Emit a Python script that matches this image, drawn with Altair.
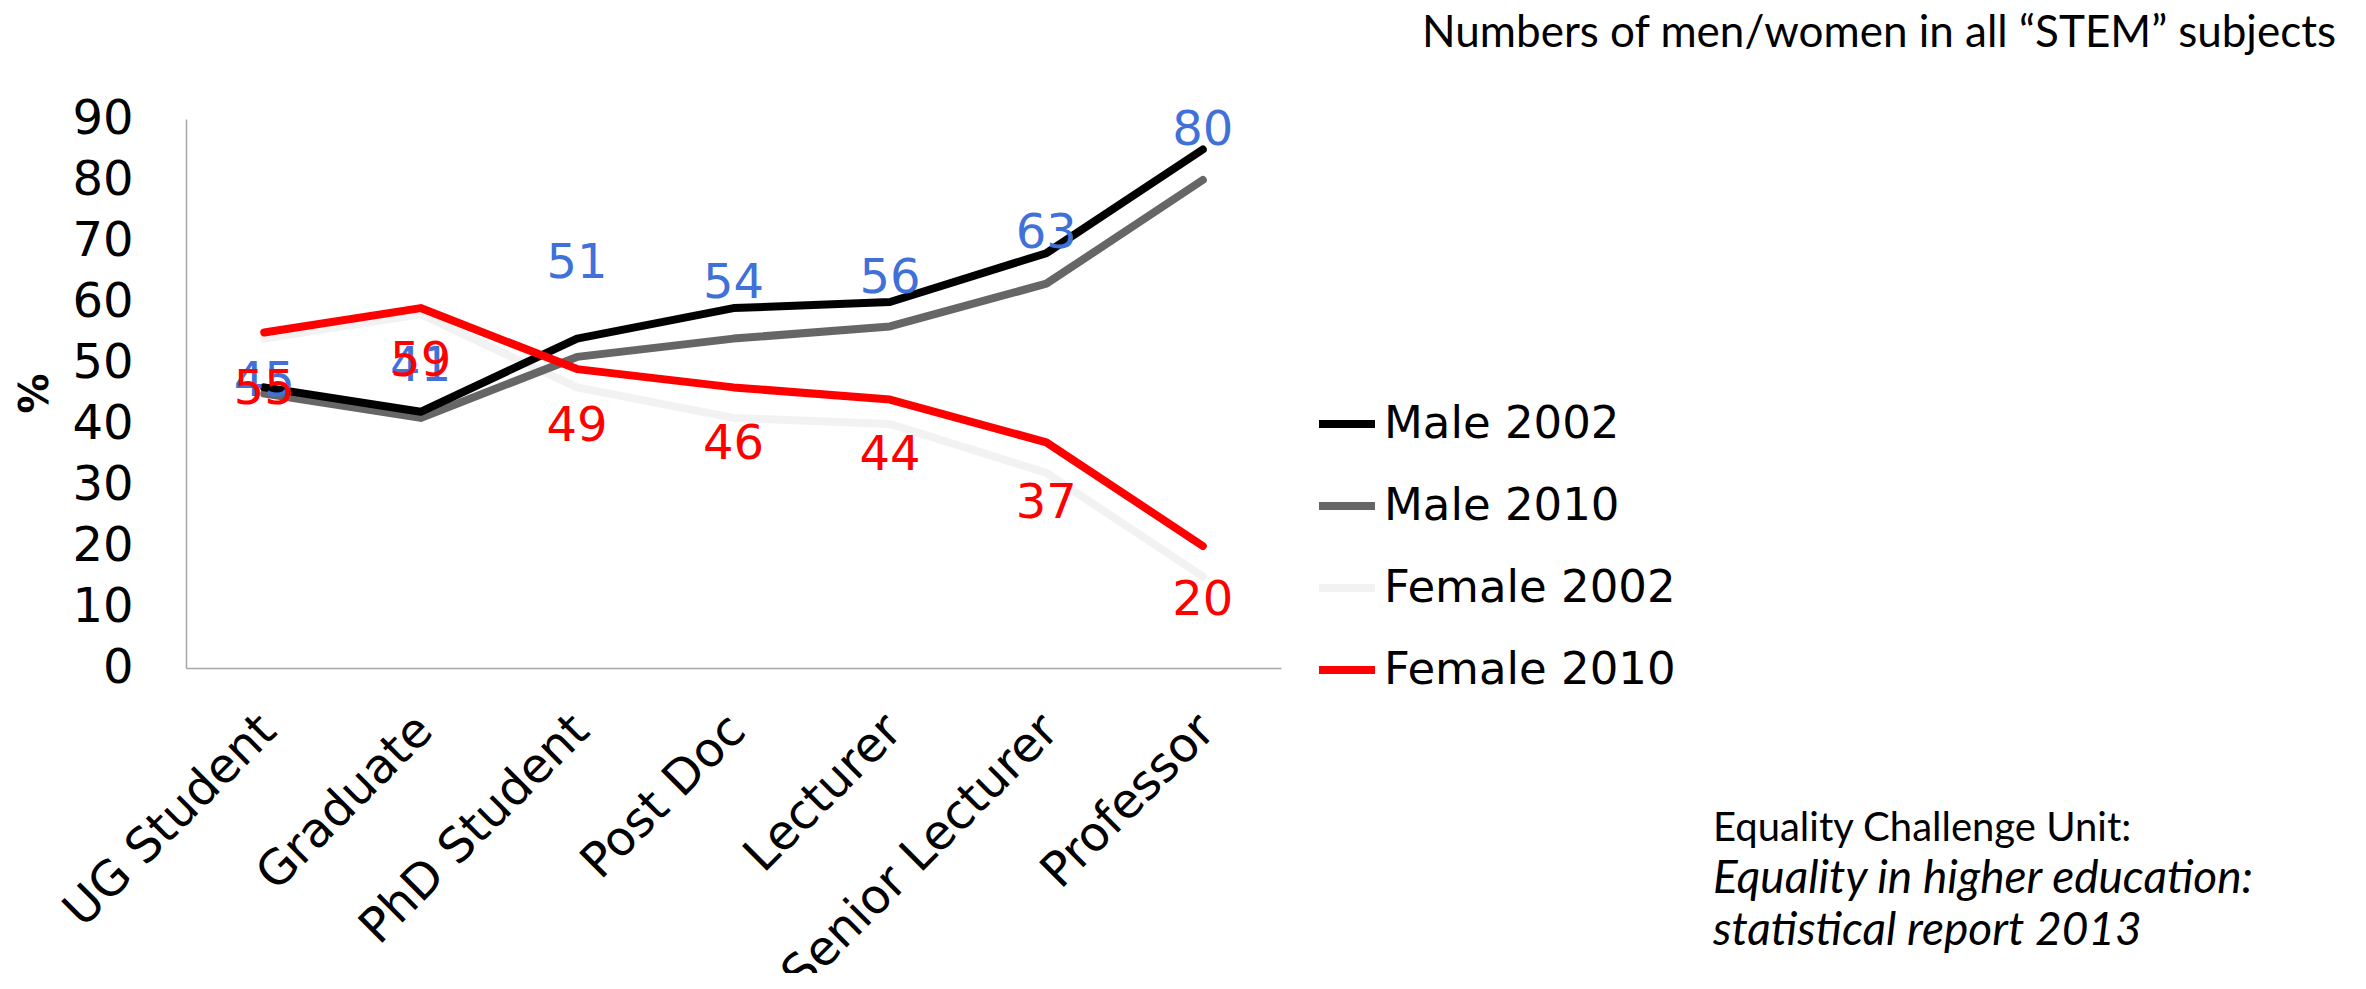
import altair as alt
import pandas as pd

# ---------------- data ----------------
categories = ["UG Student", "Graduate", "PhD Student", "Post Doc",
              "Lecturer", "Senior Lecturer", "Professor"]
male_2002 = [46, 42, 54, 59, 60, 68, 85]
male_2010 = [45, 41, 51, 54, 56, 63, 80]
female_2002 = [54, 58, 46, 41, 40, 32, 15]
female_2010 = [55, 59, 49, 46, 44, 37, 20]
series_names = ["Male 2002", "Male 2010", "Female 2002", "Female 2010"]
y_ticks = [0, 10, 20, 30, 40, 50, 60, 70, 80, 90]
title_text = "Numbers of men/women in all \u201cSTEM\u201d subjects"
source_lines = ["Equality Challenge Unit:",
                "Equality in higher education:",
                "statistical report 2013"]

# ---------------- styling (kept apart from the data) ----------------
series_colors = ["#000000", "#666666", "#F2F2F2", "#FF0000"]
male_label_nudge = [-12, -51, -93, -55, -47, -50, -49]   # px (negative = up)
female_label_nudge = [57, 54, 58, 58, 56, 62, 55]        # px (positive = down)
CHART_FONT = "DejaVu Sans"
NOTE_FONT = "Lato"
PLOT_W, PLOT_H = 1095, 549
Y_MAX = 90

series_values = [male_2002, male_2010, female_2002, female_2010]
rows = []
for name, vals in zip(series_names, series_values):
    for c, v in zip(categories, vals):
        rows.append({"series": name, "category": c, "value": v})
df = pd.DataFrame(rows)

male_labels = pd.DataFrame({"category": categories, "value": male_2010,
                            "nudge": male_label_nudge})
female_labels = pd.DataFrame({"category": categories, "value": female_2010,
                              "nudge": female_label_nudge})

x_enc = alt.X(
    "category:N", sort=categories,
    scale=alt.Scale(type="point", padding=0.5),
    axis=alt.Axis(title=None, labelAngle=-45, labelAlign="right",
                  labelBaseline="top", labelPadding=38, labelOffset=-13,
                  labelFontSize=48, labelFont=CHART_FONT,
                  labelColor="#000000", ticks=False,
                  domainColor="#A6A6A6", domainWidth=1.5, grid=False,
                  labelOverlap=False, labelLimit=0),
)
y_scale = alt.Scale(domain=[0, Y_MAX], nice=False, zero=True)
y_axis = alt.Axis(values=y_ticks, title="%", titleFontSize=40,
                  titleFontWeight="bold", titleFont=CHART_FONT,
                  titleColor="#000000", titleX=-151, titleY=274,
                  titleAlign="center", titleBaseline="middle", titleAngle=270,
                  labelFontSize=48, labelFont=CHART_FONT, labelColor="#000000",
                  labelPadding=53, ticks=False, domainColor="#A6A6A6",
                  domainWidth=1.5, grid=False, labelFlush=False,
                  labelOverlap=False)
y_enc = alt.Y("value:Q", scale=y_scale, axis=y_axis)
y_lab = alt.Y("label_pos:Q", scale=y_scale, axis=y_axis)

color_enc = alt.Color(
    "series:N",
    scale=alt.Scale(domain=series_names, range=series_colors),
    legend=alt.Legend(orient="none", legendX=1129, legendY=273, title=None,
                      symbolType="stroke", symbolSize=3136,
                      symbolStrokeWidth=8, labelFontSize=45,
                      labelFont=CHART_FONT, labelColor="#000000",
                      rowPadding=27, labelOffset=5, padding=0, labelLimit=0),
)

base = alt.Chart(df)
draw_order = ["Female 2002", "Male 2010", "Male 2002", "Female 2010"]
line_layers = [
    base.transform_filter(alt.datum.series == s)
    .mark_line(strokeWidth=8, strokeCap="round", strokeJoin="round")
    .encode(x=x_enc, y=y_enc, color=color_enc)
    for s in draw_order
]

px_to_units = Y_MAX / PLOT_H

male_text = alt.Chart(male_labels).transform_calculate(
    label_pos=f"datum.value - datum.nudge * {px_to_units}"
).mark_text(
    fontSize=48, font=CHART_FONT, color="#3F71D8",
    align="center", baseline="middle"
).encode(x=x_enc, y=y_lab, text="value:Q")

female_text = alt.Chart(female_labels).transform_calculate(
    label_pos=f"datum.value - datum.nudge * {px_to_units}"
).mark_text(
    fontSize=48, font=CHART_FONT, color="#FF0000",
    align="center", baseline="middle"
).encode(x=x_enc, y=y_lab, text="value:Q")

title_layer = alt.Chart(pd.DataFrame({"t": [title_text]})).mark_text(
    font=NOTE_FONT, fontSize=44, align="right", baseline="alphabetic",
    color="#000000"
).encode(x=alt.value(2150), y=alt.value(-72), text="t:N")

src_layers = []
for i, (txt, style, size) in enumerate(zip(source_lines,
                                           ["normal", "italic", "italic"],
                                           [40, 46, 46])):
    src_layers.append(
        alt.Chart(pd.DataFrame({"t": [txt]})).mark_text(
            font=NOTE_FONT, fontSize=size, fontStyle=style, align="left",
            baseline="alphabetic", color="#000000"
        ).encode(x=alt.value(1527), y=alt.value(722 + 52 * i), text="t:N")
    )

chart = alt.layer(
    *line_layers, male_text, female_text, title_layer, *src_layers
).properties(
    width=PLOT_W, height=PLOT_H,
    autosize=alt.AutoSizeParams(type="none"),
    padding={"left": 178, "top": 111, "right": 1067, "bottom": 305},
    background="#FFFFFF",
).configure_view(stroke=None)

chart.save("out.html", embed_options={"renderer": "svg", "actions": False})
